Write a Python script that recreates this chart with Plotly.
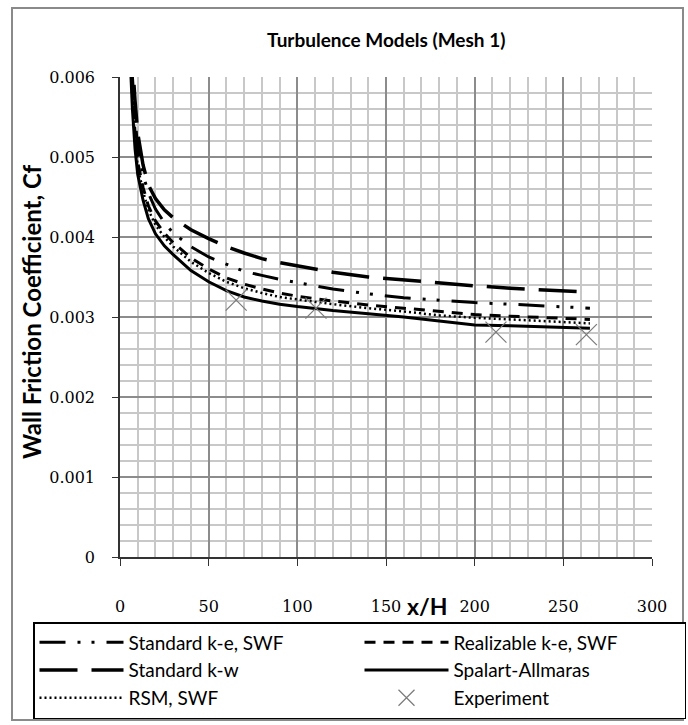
import plotly.graph_objects as go

# Streamwise position x/H shared by all CFD curves
x_cfd = [5, 6, 7, 8.5, 10, 13, 16, 20, 25, 30, 40, 50, 60, 70, 80, 90, 100,
         120, 140, 160, 180, 200, 220, 240, 265]

# Wall friction coefficient for each turbulence model
cf_std_ke = [0.0070, 0.0065, 0.0060, 0.0055, 0.0051, 0.00478, 0.00455, 0.00435,
             0.00418, 0.00405, 0.00388, 0.00375, 0.00366, 0.00357, 0.00352,
             0.00347, 0.00343, 0.00335, 0.00329, 0.00324, 0.00321, 0.00318,
             0.00316, 0.00314, 0.00311]
cf_real_ke = [0.0068, 0.0063, 0.0058, 0.0053, 0.00493, 0.00462, 0.00439, 0.00420,
              0.00405, 0.00393, 0.00374, 0.00360, 0.00349, 0.00341, 0.00335,
              0.00330, 0.00326, 0.00320, 0.00315, 0.00311, 0.00307, 0.00303,
              0.00301, 0.00299, 0.00297]
cf_std_kw = [0.0072, 0.0067, 0.0062, 0.0057, 0.0053, 0.0049, 0.00465, 0.00448,
             0.00434, 0.00424, 0.00409, 0.00398, 0.00388, 0.00380, 0.00373,
             0.00368, 0.00364, 0.00356, 0.00350, 0.00346, 0.00343, 0.00339,
             0.00336, 0.00334, 0.00331]
cf_sa = [0.0066, 0.0061, 0.0056, 0.0051, 0.00478, 0.00446, 0.00423, 0.00404,
         0.00389, 0.00378, 0.00358, 0.00344, 0.00333, 0.00325, 0.00320,
         0.00316, 0.00313, 0.00308, 0.00304, 0.00300, 0.00295, 0.00290,
         0.00289, 0.00288, 0.00286]
cf_rsm = [0.0067, 0.0062, 0.0057, 0.0052, 0.00488, 0.00457, 0.00434, 0.00415,
          0.00400, 0.00388, 0.00369, 0.00355, 0.00344, 0.00336, 0.00330,
          0.00325, 0.00322, 0.00316, 0.00311, 0.00307, 0.00302, 0.00299,
          0.00297, 0.00295, 0.00292]

# Measured data
x_exp = [65.5, 110.5, 212, 263]
cf_exp = [0.00321, 0.00311, 0.00281, 0.00278]

# Axis ticks
x_ticks = [0, 50, 100, 150, 200, 250, 300]
y_ticks = [0, 0.001, 0.002, 0.003, 0.004, 0.005, 0.006]
y_ticktext = ["0", "0.001", "0.002", "0.003", "0.004", "0.005", "0.006"]

W, H = 688, 725
ML, MR, MT, MB = 120, 36, 77, 168
PW, PH = W - ML - MR, H - MT - MB


def px_x(p):
    return (p - ML) / PW


def px_y(p):
    return (H - MB - p) / PH


SANS = "Lato"
SERIF = "DejaVu Serif"

fig = go.Figure()

fig.add_trace(go.Scatter(x=x_cfd, y=cf_std_ke, mode="lines", name="Standard k-e, SWF",
                         line=dict(color="black", width=3,
                                   dash="26px,12px,3px,11px,3px,12px")))
fig.add_trace(go.Scatter(x=x_cfd, y=cf_real_ke, mode="lines", name="Realizable k-e, SWF",
                         line=dict(color="black", width=3, dash="11px,8px")))
fig.add_trace(go.Scatter(x=x_cfd, y=cf_std_kw, mode="lines", name="Standard k-w",
                         line=dict(color="black", width=3.5, dash="38px,14px")))
fig.add_trace(go.Scatter(x=x_cfd, y=cf_sa, mode="lines", name="Spalart-Allmaras",
                         line=dict(color="black", width=3)))
fig.add_trace(go.Scatter(x=x_cfd, y=cf_rsm, mode="lines", name="RSM, SWF",
                         line=dict(color="black", width=2.5, dash="2px,3px")))
fig.add_trace(go.Scatter(x=x_exp, y=cf_exp, mode="markers", name="Experiment",
                         marker=dict(symbol="x-thin-open", size=21, color="#7a7a7a",
                                     line=dict(color="#7a7a7a", width=1.2))))

fig.update_xaxes(
    range=[0, 300], tickvals=x_ticks, ticks="outside", ticklen=7, tickwidth=1.2,
    tickcolor="#333333", showline=True, linecolor="#333333", linewidth=1.5,
    showgrid=True, gridcolor="#8c8c8c", gridwidth=1.5, zeroline=False,
    minor=dict(dtick=10, showgrid=True, gridcolor="#c8c8c8", gridwidth=1.5, ticks=""),
    ticklabelstandoff=27,
    tickfont=dict(family=SERIF, size=16, color="black"),
)
fig.update_yaxes(
    range=[0, 0.006], tickvals=y_ticks, ticktext=y_ticktext, ticks="outside", ticklen=6,
    tickwidth=1.2, tickcolor="#333333", showline=True, linecolor="#333333", linewidth=1.5,
    showgrid=True, gridcolor="#8c8c8c", gridwidth=1.5, zeroline=False,
    minor=dict(dtick=0.0002, showgrid=True, gridcolor="#c8c8c8", gridwidth=1.5, ticks=""),
    ticklabelstandoff=14,
    tickfont=dict(family=SERIF, size=16, color="black"),
)

fig.add_annotation(text="Turbulence Models (Mesh 1)", x=0.5, y=px_y(40), xref="paper",
                   yref="paper", showarrow=False, xanchor="center", yanchor="middle",
                   font=dict(family=SANS, size=19, color="black", weight="bold"))
fig.add_annotation(text="Wall Friction Coefficient, Cf", x=px_x(31), y=px_y(312),
                   xref="paper", yref="paper", showarrow=False, textangle=-90,
                   xanchor="center", yanchor="middle",
                   font=dict(family=SANS, size=24, color="black", weight="bold"))
fig.add_annotation(text="x/H", x=px_x(427), y=px_y(606), xref="paper", yref="paper",
                   showarrow=False, xanchor="center", yanchor="middle",
                   font=dict(family=SANS, size=23, color="black", weight="bold"))

# Outer chart frame
fig.add_shape(type="rect", xref="paper", yref="paper",
              x0=px_x(12), x1=px_x(683), y0=px_y(720), y1=px_y(8),
              line=dict(color="#8a8a8a", width=2), layer="below")

fig.update_layout(
    width=W, height=H,
    margin=dict(l=ML, r=MR, t=MT, b=MB, autoexpand=False),
    paper_bgcolor="white", plot_bgcolor="white",
    showlegend=True,
    legend=dict(orientation="h", x=px_x(33), xanchor="left", y=px_y(622),
                yanchor="top", bordercolor="black", borderwidth=1.5,
                bgcolor="white", itemwidth=84, entrywidth=226, tracegroupgap=0,
                font=dict(family=SANS, size=19, color="black"), traceorder="normal"),
)

fig.write_html("out.html")
